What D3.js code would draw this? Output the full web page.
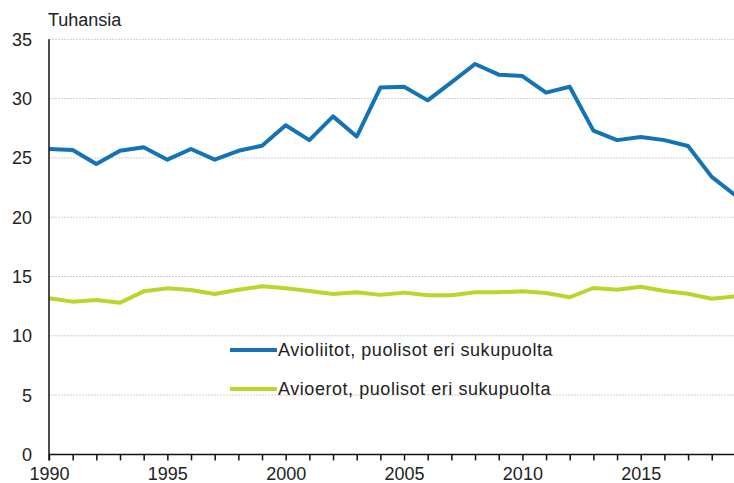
<!DOCTYPE html>
<html>
<head>
<meta charset="utf-8">
<script src="https://cdn.jsdelivr.net/npm/d3@7"></script>
<style>
  body { margin: 0; background: #fff; }
  svg { display: block; font-family: "Liberation Sans", Arial, sans-serif; }
</style>
</head>
<body>
<svg id="chart" width="734" height="483"></svg>
<script>
// data (thousands)
const years = d3.range(1990, 2020);
const marriages = [25.75, 25.67, 24.49, 25.6, 25.9, 24.85, 25.75, 24.85, 25.6, 26.03,
                   27.75, 26.5, 28.5, 26.8, 30.93, 31.0, 29.85, 31.37, 32.92, 32.02,
                   31.9, 30.5, 31.0, 27.3, 26.5, 26.76, 26.5, 26.0, 23.4, 21.85];
const divorces = [13.16, 12.88, 13.02, 12.79, 13.75, 14.0, 13.86, 13.52, 13.89, 14.17,
                  14.0, 13.78, 13.52, 13.67, 13.45, 13.64, 13.41, 13.41, 13.67, 13.67,
                  13.75, 13.61, 13.25, 14.03, 13.89, 14.14, 13.78, 13.55, 13.13, 13.33];
const seriesNames = ["Avioliitot, puolisot eri sukupuolta", "Avioerot, puolisot eri sukupuolta"];
const seriesColors = ["#1473b4", "#bcd42c"];
const yTicks = [0, 5, 10, 15, 20, 25, 30, 35];
const xLabelYears = [1990, 1995, 2000, 2005, 2010, 2015];

const svg = d3.select("#chart");
const plotLeft = 49, plotRight = 735.4, plotTop = 39.3, plotBottom = 454.4;
const fs = 18;

const x = d3.scaleLinear().domain([1990, 2019]).range([plotLeft, plotRight]);
const y = d3.scaleLinear().domain([0, 35]).range([plotBottom, plotTop]);

// gridlines
svg.append("g")
  .selectAll("line")
  .data(yTicks.filter(d => d > 0))
  .join("line")
  .attr("x1", plotLeft).attr("x2", 734)
  .attr("y1", d => y(d)).attr("y2", d => y(d))
  .attr("stroke", "#cfcfcf")
  .attr("stroke-width", 1)
  .attr("stroke-dasharray", "2,1");

// y labels
svg.append("g")
  .selectAll("text")
  .data(yTicks)
  .join("text")
  .attr("x", 32)
  .attr("y", d => y(d))
  .attr("dy", "0.36em")
  .attr("text-anchor", "end")
  .attr("font-size", fs)
  .attr("fill", "#222")
  .text(d => d);

svg.append("text")
  .attr("x", 48).attr("y", 26)
  .attr("font-size", fs)
  .attr("fill", "#222")
  .text("Tuhansia");

// lines
const line = d3.line()
  .x((d, i) => x(years[i]))
  .y(d => y(d));

[marriages, divorces].forEach((vals, k) => {
  svg.append("path")
    .attr("d", line(vals))
    .attr("fill", "none")
    .attr("stroke", seriesColors[k])
    .attr("stroke-width", 4)
    .attr("stroke-linejoin", "round");
});

// axes
const xAxis = d3.axisBottom(x)
  .tickValues(years)
  .tickSize(6)
  .tickFormat(d => xLabelYears.includes(d) ? d : "");

const gx = svg.append("g")
  .attr("transform", `translate(0,${plotBottom})`)
  .call(xAxis);
gx.select(".domain").remove();
gx.selectAll(".tick line").attr("stroke", "#111").attr("stroke-width", 1.5);
gx.selectAll(".tick text")
  .attr("font-size", fs)
  .attr("font-family", "'Liberation Sans', Arial, sans-serif")
  .attr("fill", "#222")
  .attr("y", 26)
  .attr("dy", 0);

svg.append("line")
  .attr("x1", plotLeft).attr("x2", 734)
  .attr("y1", plotBottom).attr("y2", plotBottom)
  .attr("stroke", "#111").attr("stroke-width", 1.5);
svg.append("line")
  .attr("x1", plotLeft).attr("x2", plotLeft)
  .attr("y1", plotTop).attr("y2", plotBottom + 6)
  .attr("stroke", "#111").attr("stroke-width", 1.5);

// legend
const legend = svg.append("g")
  .selectAll("g")
  .data(seriesNames)
  .join("g")
  .attr("transform", (d, i) => `translate(230,${350 + i * 39})`);
legend.append("line")
  .attr("x1", 0).attr("x2", 47)
  .attr("stroke", (d, i) => seriesColors[i])
  .attr("stroke-width", 4);
legend.append("text")
  .attr("x", 48).attr("y", 0)
  .attr("dy", "0.36em")
  .attr("font-size", fs)
  .attr("letter-spacing", 0.55)
  .attr("fill", "#222")
  .text(d => d);
</script>
</body>
</html>
